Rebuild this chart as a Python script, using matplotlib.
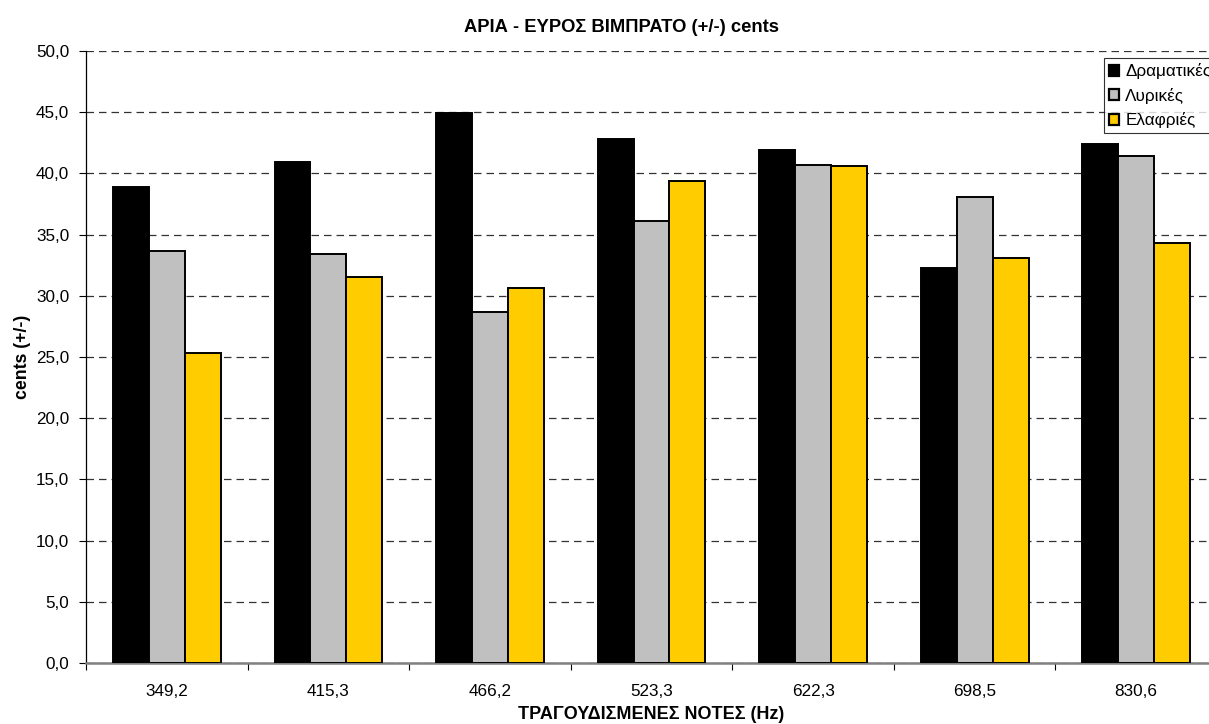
import matplotlib
matplotlib.use("Agg")
import matplotlib.pyplot as plt
from matplotlib.patches import Patch
from matplotlib.ticker import FixedLocator, NullFormatter
import numpy as np

plt.rcParams['font.family'] = ['Liberation Sans', 'DejaVu Sans']

notes = ["349,2", "415,3", "466,2", "523,3", "622,3", "698,5", "830,6"]
series_names = ["Δραματικές", "Λυρικές", "Ελαφριές"]
dramatic = [38.9, 40.9, 44.9, 42.8, 41.9, 32.3, 42.4]
lyric = [33.7, 33.4, 28.7, 36.1, 40.7, 38.1, 41.4]
light = [25.3, 31.5, 30.6, 39.4, 40.6, 33.1, 34.3]
colors = ["#000000", "#C0C0C0", "#FFCC00"]
yticks = np.arange(0, 50.1, 5)

fig = plt.figure(figsize=(12.09, 7.24), dpi=100)
ax = fig.add_axes([86 / 1209, 1 - 663 / 724, 1131 / 1209, 612 / 724])

x = np.arange(len(notes))
w = 1 / 4.5
for i, (vals, col) in enumerate(zip([dramatic, lyric, light], colors)):
    ax.bar(x + (i - 1) * w, vals, width=w, color=col, edgecolor="black",
           linewidth=1.4, zorder=3)

ax.set_xlim(-0.5, len(notes) - 0.5)
ax.set_ylim(0, 50)
ax.set_yticks(yticks)
ax.set_yticklabels([f"{v:.1f}".replace(".", ",") for v in yticks], fontsize=12.3)
ax.yaxis.grid(True, linestyle=(0, (6, 4)), color="#333333", linewidth=0.9, zorder=0)
ax.set_axisbelow(True)

ax.set_xticks(x)
ax.set_xticklabels(notes, fontsize=12.3)
ax.tick_params(axis="x", which="major", length=0, pad=15)
ax.xaxis.set_minor_locator(FixedLocator(np.arange(-0.5, len(notes), 1)))
ax.xaxis.set_minor_formatter(NullFormatter())
ax.tick_params(axis="x", which="minor", length=5, width=0.8, color="#000000")
ax.tick_params(axis="y", length=5, width=0.8, pad=7)

for s in ["top", "right"]:
    ax.spines[s].set_visible(False)
ax.spines["left"].set_linewidth(0.9)
ax.spines["bottom"].set_color("#808080")
ax.spines["bottom"].set_linewidth(1.8)

ax.set_xlabel("ΤΡΑΓΟΥΔΙΣΜΕΝΕΣ ΝΟΤΕΣ (Hz)", fontsize=13, fontweight="bold", labelpad=5)
ax.set_ylabel("cents (+/-)", fontsize=12.7, fontweight="bold", labelpad=4)
fig.text(621 / 1209, 1 - 28 / 724, "ΑΡΙΑ - ΕΥΡΟΣ ΒΙΜΠΡΑΤΟ (+/-) cents",
         ha="center", va="center", fontsize=13.2, fontweight="bold")

handles = [Patch(facecolor=c, edgecolor="black", linewidth=1.6) for c in colors]
leg = fig.legend(handles, series_names, loc="upper left",
                 bbox_to_anchor=(1104 / 1209, 1 - 58 / 724), fontsize=12.3,
                 frameon=True, fancybox=False, shadow=False, borderpad=0.3,
                 handlelength=0.6, handleheight=0.6, handletextpad=0.35,
                 labelspacing=0.5, borderaxespad=0)
leg.get_frame().set_edgecolor("black")
leg.get_frame().set_linewidth(0.8)

fig.savefig("out.png", dpi=100)
